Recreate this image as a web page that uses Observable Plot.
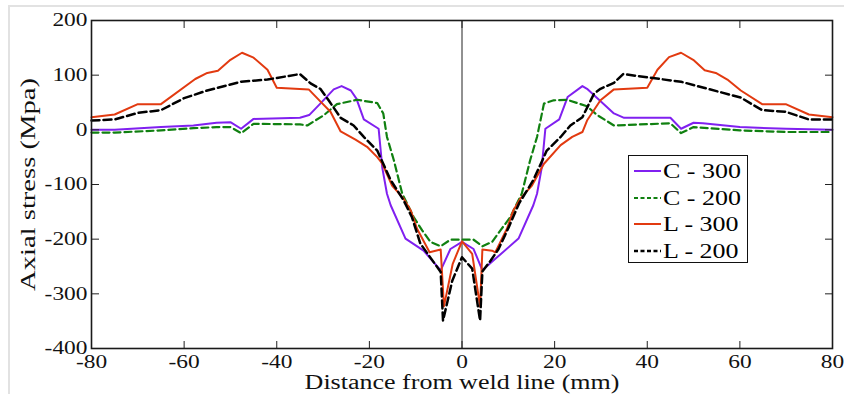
<!DOCTYPE html>
<html><head><meta charset="utf-8">
<script src="https://cdn.jsdelivr.net/npm/d3@7"></script>
<script src="https://cdn.jsdelivr.net/npm/@observablehq/plot@0.6"></script>
<style>
html,body{margin:0;padding:0;background:#fff;}
#wrap{position:relative;width:844px;height:394px;overflow:hidden;}
#border{position:absolute;left:8px;top:5px;right:-4px;bottom:-4px;border-top:2px solid #e2e2e2;border-left:2px solid #e2e2e2;pointer-events:none;}
#legend{position:absolute;left:628px;top:155px;width:118px;height:106px;border:1.5px solid #111;background:#fff;font-family:"Liberation Serif";font-size:20px;}
.row{position:absolute;left:0;height:26px;width:118px;}
.row svg{position:absolute;left:5px;top:0;}
.row span{position:absolute;left:34px;top:0;line-height:26px;transform:scaleX(1.3);transform-origin:left center;white-space:nowrap;}
</style></head>
<body><div id="wrap"><div id="chart"></div><div id="border"></div><div id="legend"></div></div>
<script>
const xTicks = [-80,-60,-40,-20,0,20,40,60,80];
const yTicks = [-400,-300,-200,-100,0,100,200];
const refX = [0];
const seriesNames = ["C - 300","C - 200","L - 300","L - 200"];
const seriesColors = ["#8020f0","#108010","#e23a10","#000000"];
const seriesDash = [null,"7,4",null,"8,4"];
const seriesWidth = [2,2.2,2,2.5];

const c300X = [-80,-75,-65,-58,-53,-50,-47.7,-45,-35,-33,-30.6,-27.7,-26,-24,-22.8,-21.2,-18,-17.2,-16.2,-15.4,-12.2,-8.3,-4.6,-2.5,0,2.5,4.4,7.2,12.2,15.4,16.2,17.2,18,21,22.8,26,27,32.8,35,45,47.3,50,52,60,70,80];
const c300Y = [0,0,5,8,13,14,2,20,22,27,48,74,80,72,57,19,2,-70,-117,-138,-199,-221,-257,-218,-205,-218,-257,-236,-199,-138,-117,-70,2,19,60,80,75,30,22,22,2,13,12,5,2,0];

const c200X = [-80,-75,-65,-58,-53,-50,-47.7,-45,-35,-33.4,-29.8,-27,-22.6,-18.3,-17,-16.2,-14.7,-12.9,-10.4,-8.6,-6.8,-4.6,-2.5,0,2.5,4.4,6.5,8.3,10.4,12.9,14.7,16.2,17.7,19.8,22.7,27,29.2,32.8,45,47.3,50,60,70,80];
const c200Y = [-5,-5,-1,3,5,5,-6,11,10,8,27,47,55,49,30,-13,-56,-117,-160,-184,-205,-213,-201,-201,-201,-213,-205,-184,-160,-117,-56,-13,48,54,55,43,27,8,12,-6,5,-1,-4,-4];

const l300X = [-80,-75,-70,-65,-57.6,-55,-52.7,-50,-47.5,-45,-42,-40,-33.1,-30.6,-28.4,-26.2,-23,-20.5,-18.3,-17.2,-15.1,-12.6,-11.1,-9.7,-7,-4.6,-3.9,-2,0,2.2,3.9,4.4,6.5,7.2,9.7,11.1,12.6,15.1,17.7,21.3,23.8,26,27,29.9,32.8,40,42.2,44.7,47.3,50.1,52.4,54.8,57.3,60.2,64.8,69.9,74.9,80];
const l300Y = [23,28,47,47,93,104,108,128,141,132,110,77,74,52,33,-3,-18,-31,-50,-62,-102,-126,-147,-181,-224,-219,-323,-245,-204,-227,-323,-219,-221,-224,-181,-147,-126,-102,-62,-28,-13,-4,17,54,74,77,110,133,141,127,109,104,92,72,47,47,28,23];

const l200X = [-80,-75,-70,-65,-60,-55,-47.7,-42,-35,-32.7,-30.6,-28.8,-26.2,-23.4,-21.2,-18.3,-15.4,-12.6,-10.8,-9,-4.6,-4.1,-2.1,0,2.2,3.9,4.4,6.2,7.9,10.1,12.3,15.4,18.3,21.3,23.4,26,28.5,29.9,32.8,34.8,40,47.3,52.2,60.2,64.8,69.9,74.9,80];
const l200Y = [17,19,31,36,58,72,88,92,102,85,75,54,22,8,-13,-38,-92,-129,-160,-208,-260,-349,-276,-233,-254,-349,-259,-239,-218,-178,-135,-92,-38,-13,8,23,66,75,86,102,96,88,77,59,36,33,19,19];

const xLabel = "Distance from weld line (mm)";
const yLabel = "Axial stress (Mpa)";

const allX = [c300X, c200X, l300X, l200X];
const allY = [c300Y, c200Y, l300Y, l200Y];

const lineMarks = allX.map((xs, i) => {
  const rows = xs.map((x, j) => ({x, y: allY[i][j]}));
  return Plot.line(rows, {x: "x", y: "y", stroke: seriesColors[i], strokeWidth: seriesWidth[i],
    strokeDasharray: seriesDash[i] || undefined, strokeLinejoin: "round"});
});

const fmt = d => String(d);
const chart = Plot.plot({
  width: 844, height: 394,
  marginLeft: 91, marginRight: 12, marginTop: 20, marginBottom: 46,
  style: {fontFamily: "Liberation Serif", fontSize: "18px", color: "#111", background: "transparent"},
  x: {domain: [-80, 80]},
  y: {domain: [-400, 200]},
  marks: [
    Plot.ruleX(refX, {stroke: "#222", strokeWidth: 1}),
    ...lineMarks,
    Plot.axisX(xTicks, {anchor: "bottom", tickSize: -7, tickPadding: 14, tickFormat: fmt, label: null, stroke: "#222"}),
    Plot.axisX(xTicks, {anchor: "top", tickSize: -7, tickFormat: () => "", label: null, stroke: "#222"}),
    Plot.axisY(yTicks, {anchor: "left", tickSize: -8, tickPadding: 12, tickFormat: fmt, label: null, stroke: "#222"}),
    Plot.axisY(yTicks, {anchor: "right", tickSize: -8, tickFormat: () => "", label: null, stroke: "#222"}),
    Plot.frame({stroke: "#1a1a1a", strokeWidth: 1.6}),
    Plot.text([xLabel], {text: d => d, frameAnchor: "bottom", dy: 40, lineAnchor: "bottom", fontSize: 20, fill: "#111"}),
    Plot.text([yLabel], {text: d => d, frameAnchor: "left", textAnchor: "middle", rotate: -90, dx: -57, lineAnchor: "bottom", fontSize: 22, fill: "#111", ariaLabel: "ylabel"})
  ]
});
document.getElementById("chart").appendChild(chart);

// horizontal stretch of text to match the reference's aspect
chart.querySelectorAll("text").forEach(t => {
  if (t.closest('[aria-label="ylabel"]')) return;
  const len = t.getComputedTextLength();
  if (len > 0) {
    t.setAttribute("textLength", (len * 1.3).toFixed(1));
    t.setAttribute("lengthAdjust", "spacingAndGlyphs");
  }
});

// legend
const legend = document.getElementById("legend");
seriesNames.forEach((name, i) => {
  const row = document.createElement("div");
  row.className = "row";
  row.style.top = (2 + i * 26.5) + "px";
  const svgNS = "http://www.w3.org/2000/svg";
  const s = document.createElementNS(svgNS, "svg");
  s.setAttribute("width", 28); s.setAttribute("height", 26);
  const ln = document.createElementNS(svgNS, "line");
  ln.setAttribute("x1", 0); ln.setAttribute("x2", 27); ln.setAttribute("y1", 13); ln.setAttribute("y2", 13);
  ln.setAttribute("stroke", seriesColors[i]); ln.setAttribute("stroke-width", seriesWidth[i]);
  if (seriesDash[i]) ln.setAttribute("stroke-dasharray", "4,2.5");
  s.appendChild(ln);
  const sp = document.createElement("span");
  sp.textContent = name;
  row.appendChild(s); row.appendChild(sp);
  legend.appendChild(row);
});
</script>
</body></html>
